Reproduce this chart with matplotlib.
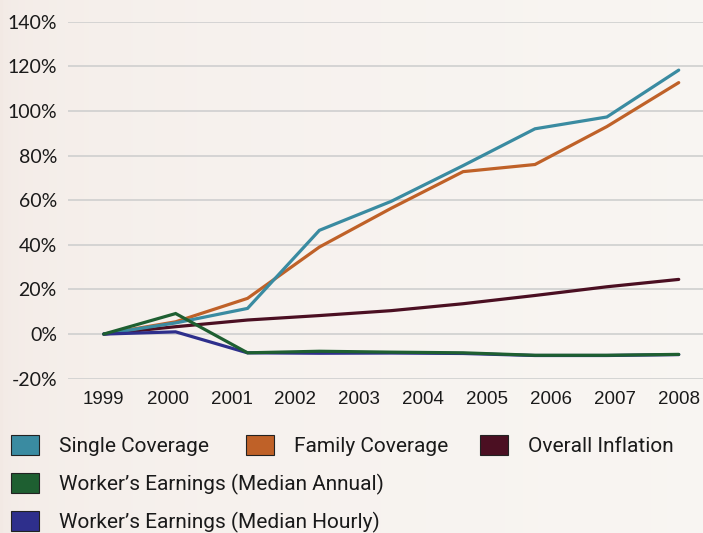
import numpy as np
import matplotlib.pyplot as plt
from matplotlib.patches import Rectangle

# year labels on the x axis (10 labels, but the series only have 9 points)
years = [1999, 2000, 2001, 2002, 2003, 2004, 2005, 2006, 2007, 2008]

single = [0, 5, 11.5, 46.5, 59.5, 75.5, 92, 97.3, 118.3]
family = [0, 5.5, 16, 39, 56.4, 72.8, 76, 93, 112.7]
inflation = [0, 3.3, 6.3, 8.3, 10.5, 13.6, 17.3, 21.2, 24.5]
annual = [0, 9.2, -8.4, -7.7, -8.1, -8.4, -9.5, -9.5, -9.1]
hourly = [0, 1, -8.4, -8.6, -8.5, -8.7, -9.6, -9.6, -9.2]

names = ["Single Coverage", "Family Coverage", "Overall Inflation",
         "Worker\u2019s Earnings (Median Annual)", "Worker\u2019s Earnings (Median Hourly)"]
colors = ["#3a8ba1", "#bf6128", "#4b0f22", "#1e5f31", "#2e2f8c"]

W, H = 703, 533
fig = plt.figure(figsize=(W / 100, H / 100), dpi=100)

# soft beige background, a bit pinker on the left
bg = fig.add_axes([0, 0, 1, 1], zorder=-10)
grad = np.linspace(0, 1, 256)[None, :] ** 0.35
c0 = np.array([0.95, 0.915, 0.895])
c1 = np.array([0.975, 0.962, 0.95])
img = c0[None, None, :] * (1 - grad[..., None]) + c1[None, None, :] * grad[..., None]
bg.imshow(img, aspect="auto", extent=[0, 1, 0, 1])
bg.axis("off")

def fx(px):
    return px / W

def fy(py):
    return 1 - py / H

ax = fig.add_axes([fx(68), fy(378.7), 1 - fx(68), fy(21.7) - fy(378.7)])
ax.patch.set_alpha(0)

x = np.linspace(years[0], years[-1], len(single))
series = [single, family, inflation, annual, hourly]
# drawing order: inflation, family, single, hourly, annual (annual on top)
for z, i in enumerate([2, 1, 0, 4, 3]):
    ax.plot(x, series[i], color=colors[i], lw=2.3, solid_capstyle="round",
            solid_joinstyle="miter", zorder=3 + z)

ax.set_ylim(-20, 140)
ax.set_xlim(1998.44, 2008.38)
ax.set_yticks(range(-20, 141, 20))
ax.set_yticklabels([f"{v}%" for v in range(-20, 141, 20)],
                   fontfamily="Lato", fontsize=14, color="#1a1a1a")
ax.set_xticks(years)
ax.set_xticklabels([str(y) for y in years], fontfamily="Liberation Sans",
                   fontsize=13.5, color="#1a1a1a")
ax.tick_params(axis="y", length=0, pad=8)
ax.tick_params(axis="x", length=0, pad=9)
ax.grid(axis="y", color="#cfcfcf", lw=1.2, zorder=0)
ax.set_axisbelow(True)
for s in ax.spines.values():
    s.set_visible(False)

# legend drawn by hand to match the layout
legend_pos = [(11, 445), (246, 445), (480, 445), (11, 483), (11, 521)]
for (px, py), name, col in zip(legend_pos, names, colors):
    fig.add_artist(Rectangle((fx(px), fy(py + 10)), fx(28), 20 / H,
                             transform=fig.transFigure, facecolor=col,
                             edgecolor="#222222", lw=0.8))
    fig.text(fx(px + 48), fy(py + 1), name, fontfamily="Roboto", fontstretch="condensed",
             fontsize=15, va="center", ha="left", color="#1a1a1a")

fig.savefig("out.png", dpi=100)
